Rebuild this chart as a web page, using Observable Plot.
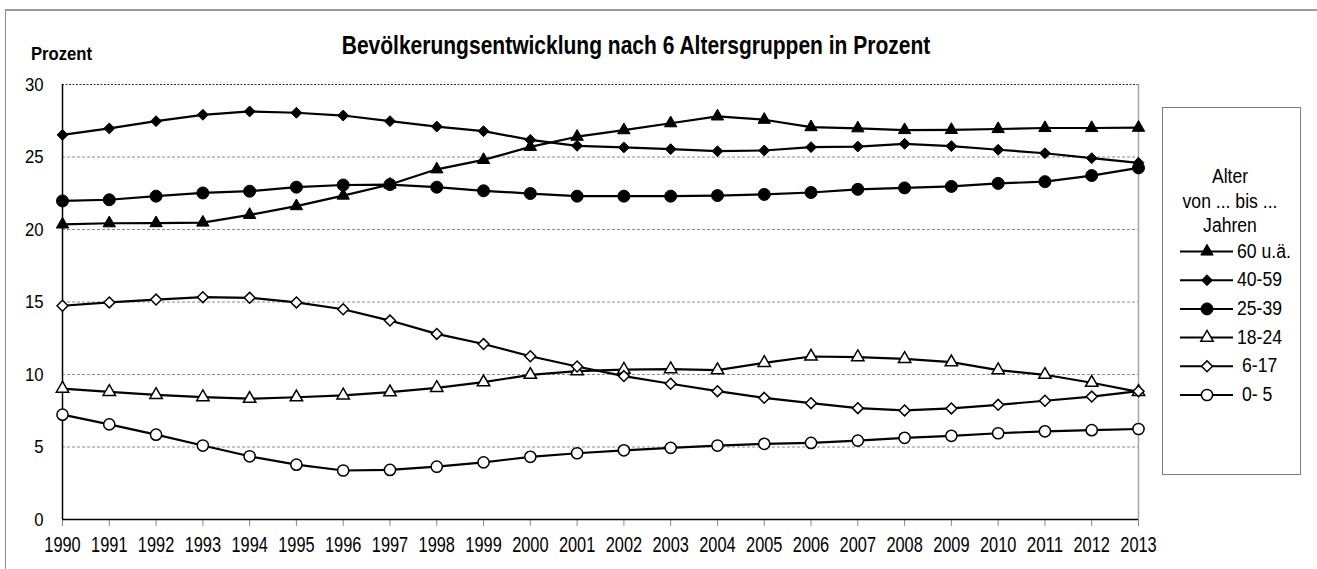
<!DOCTYPE html>
<html>
<head>
<meta charset="utf-8">
<script src="https://cdn.jsdelivr.net/npm/d3@7"></script>
<script src="https://cdn.jsdelivr.net/npm/@observablehq/plot@0.6"></script>
<style>
  html, body { margin: 0; padding: 0; background: #fff; }
  #wrap { position: relative; width: 1317px; height: 569px; overflow: hidden;
          font-family: "Liberation Sans", Arial, sans-serif; color: #000; }
  #frame { position: absolute; left: 5px; top: 9px; width: 1400px; height: 600px;
           border-left: 1px solid #8c8c8c; border-top: 2px solid #9a9a9a; box-sizing: border-box; }
  #title { position: absolute; left: 636px; top: 30px; font-size: 25px; font-weight: bold; line-height: 30px; white-space: nowrap;
           transform: translateX(-50%) scaleX(0.84); transform-origin: 50% 50%; }
  #ylabel { position: absolute; left: 31px; top: 43px; font-size: 18.5px; font-weight: bold; line-height: 22px; transform: scaleX(0.9); transform-origin: 0 50%; }
  #chart { position: absolute; left: 0; top: 0; }
  #legend { position: absolute; left: 1162px; top: 107px; width: 139px; height: 368px; box-sizing: border-box; border: 1px solid #7f7f7f; background: #fff; }
</style>
</head>
<body>
<div id="wrap">
  <div id="frame"></div>
  <div id="chart"></div>
  <div id="title">Bevölkerungsentwicklung nach 6 Altersgruppen in Prozent</div>
  <div id="ylabel">Prozent</div>
  <div id="legend"></div>
</div>
<script>
const years = d3.range(1990, 2014);
const seriesNames = ["60 u.ä.", "40-59", "25-39", "18-24", "6-17", "0- 5"];
const age60plus = [20.35, 20.43, 20.44, 20.48, 21.01, 21.61, 22.34, 23.1, 24.15, 24.8, 25.7, 26.4, 26.85, 27.33, 27.8, 27.57, 27.06, 26.98, 26.86, 26.87, 26.93, 27.0, 27.0, 27.02];
const age40to59 = [26.53, 26.97, 27.47, 27.91, 28.14, 28.05, 27.86, 27.47, 27.1, 26.78, 26.18, 25.77, 25.66, 25.54, 25.4, 25.45, 25.68, 25.72, 25.91, 25.75, 25.5, 25.26, 24.92, 24.6];
const age25to39 = [21.97, 22.05, 22.3, 22.52, 22.64, 22.92, 23.07, 23.1, 22.92, 22.67, 22.48, 22.3, 22.3, 22.3, 22.34, 22.42, 22.55, 22.77, 22.87, 22.97, 23.18, 23.3, 23.72, 24.25];
const age18to24 = [9.03, 8.8, 8.6, 8.44, 8.33, 8.43, 8.56, 8.78, 9.08, 9.47, 9.98, 10.23, 10.34, 10.37, 10.3, 10.8, 11.24, 11.2, 11.08, 10.85, 10.3, 9.98, 9.43, 8.8];
const age6to17 = [14.74, 14.97, 15.17, 15.33, 15.29, 14.97, 14.5, 13.72, 12.8, 12.1, 11.26, 10.55, 9.89, 9.36, 8.85, 8.39, 8.02, 7.68, 7.52, 7.66, 7.91, 8.19, 8.48, 8.85];
const age0to5 = [7.23, 6.56, 5.85, 5.1, 4.36, 3.78, 3.38, 3.42, 3.64, 3.94, 4.32, 4.57, 4.77, 4.94, 5.1, 5.22, 5.28, 5.44, 5.63, 5.77, 5.95, 6.08, 6.16, 6.24];
const seriesValues = [age60plus, age40to59, age25to39, age18to24, age6to17, age0to5];
const yTicks = [0, 5, 10, 15, 20, 25, 30];

const styles = [
  {symbol: "triangle", fill: "#000", r: 4.6},
  {symbol: "diamond2", fill: "#000", r: 4.9},
  {symbol: "circle",   fill: "#000", r: 6.0},
  {symbol: "triangle", fill: "#fff", r: 4.6},
  {symbol: "diamond2", fill: "#fff", r: 4.9},
  {symbol: "circle",   fill: "#fff", r: 5.6}
];

const FONT = '"Liberation Sans", Arial, sans-serif';

const marks = [
  Plot.gridY(yTicks.filter(d => d > 0 && d < 30), {stroke: "#8a8a8a", strokeOpacity: 1, strokeDasharray: "3,2"}),
  Plot.gridY([30], {stroke: "#333", strokeOpacity: 1, strokeDasharray: "2,1.5"}),
  Plot.ruleX([2013], {y1: 0, y2: 30, stroke: "#a6a6a6", strokeWidth: 1.5}),
  Plot.axisX({ticks: years, tickFormat: "d", tickSize: 7, tickPadding: 10, stroke: "#8a8a8a", fill: "#000", fontSize: 22, label: null}),
  Plot.axisY({ticks: yTicks, tickSize: 0, tickPadding: 19, fontSize: 19, fill: "#000", label: null}),
  Plot.ruleX([1990], {y1: 0, y2: 30, stroke: "#000", strokeWidth: 1.5}),
  Plot.ruleY([0], {stroke: "#000", strokeWidth: 1.5})
];

seriesNames.forEach((name, i) => {
  const data = years.map((yr, j) => ({year: yr, value: seriesValues[i][j], series: name}));
  const st = styles[i];
  marks.push(Plot.line(data, {x: "year", y: "value", stroke: "#000", strokeWidth: 2.2}));
  marks.push(Plot.dot(data, {x: "year", y: "value", symbol: st.symbol, r: st.r, fill: st.fill, stroke: "#000", strokeWidth: st.fill === "#fff" ? 1.5 : 1}));
});

const chart = Plot.plot({
  width: 1317,
  height: 569,
  marginLeft: 62,
  marginRight: 179,
  marginTop: 84,
  marginBottom: 50,
  style: {fontFamily: FONT, fontSize: "19px", color: "#000", background: "transparent"},
  x: {type: "linear", domain: [1990, 2013], axis: null},
  y: {domain: [0, 30], axis: null},
  marks
});
document.getElementById("chart").appendChild(chart);

// emulate a narrow typeface: squeeze glyphs horizontally via textLength
function squeezeTo(nodes, perChar, size) {
  nodes.forEach(t => {
    if (size) t.style.fontSize = size + "px";
    t.setAttribute("textLength", (perChar * t.textContent.trim().length).toFixed(2));
    t.setAttribute("lengthAdjust", "spacingAndGlyphs");
  });
}
function squeeze(nodes, s) {
  nodes.forEach(t => {
    const w = t.getComputedTextLength();
    t.setAttribute("textLength", (w * s).toFixed(2));
    t.setAttribute("lengthAdjust", "spacingAndGlyphs");
  });
}
const allText = Array.from(chart.querySelectorAll("text"));
squeezeTo(allText.filter(t => /^\d{4}$/.test(t.textContent.trim())), 9.1, 22);
squeezeTo(allText.filter(t => /^\d{1,2}$/.test(t.textContent.trim())), 9.3, 19);

// legend
const lg = d3.select("#legend").append("svg").attr("width", 137).attr("height", 366)
  .style("font-family", FONT).style("font-size", "20px");
const cx = 67;
const legendTexts = [];
["Alter", "von ... bis ...", "Jahren"].forEach((t, k) => {
  legendTexts.push(lg.append("text").attr("x", cx).attr("y", 75 + k * 24.5).attr("text-anchor", "middle").text(t).node());
});
seriesNames.forEach((name, i) => {
  const base = 149.5 + i * 28.7;
  const ly = base - 6;
  const st = styles[i];
  lg.append("line").attr("x1", 17).attr("x2", 70).attr("y1", ly).attr("y2", ly).attr("stroke", "#000").attr("stroke-width", 2);
  const sym = {triangle: d3.symbolTriangle, diamond2: d3.symbolDiamond2, circle: d3.symbolCircle}[st.symbol];
  lg.append("path").attr("d", d3.symbol(sym, Math.PI * st.r * st.r)())
    .attr("transform", `translate(44,${ly})`)
    .attr("fill", st.fill).attr("stroke", "#000").attr("stroke-width", st.fill === "#fff" ? 1.5 : 1);
  const indent = (name === "6-17" || name === "0- 5") ? 5 : 0;
  legendTexts.push(lg.append("text").attr("x", 74 + indent).attr("y", base).style("white-space", "pre").text(name).node());
});
squeeze(legendTexts, 0.88);
</script>
</body>
</html>
